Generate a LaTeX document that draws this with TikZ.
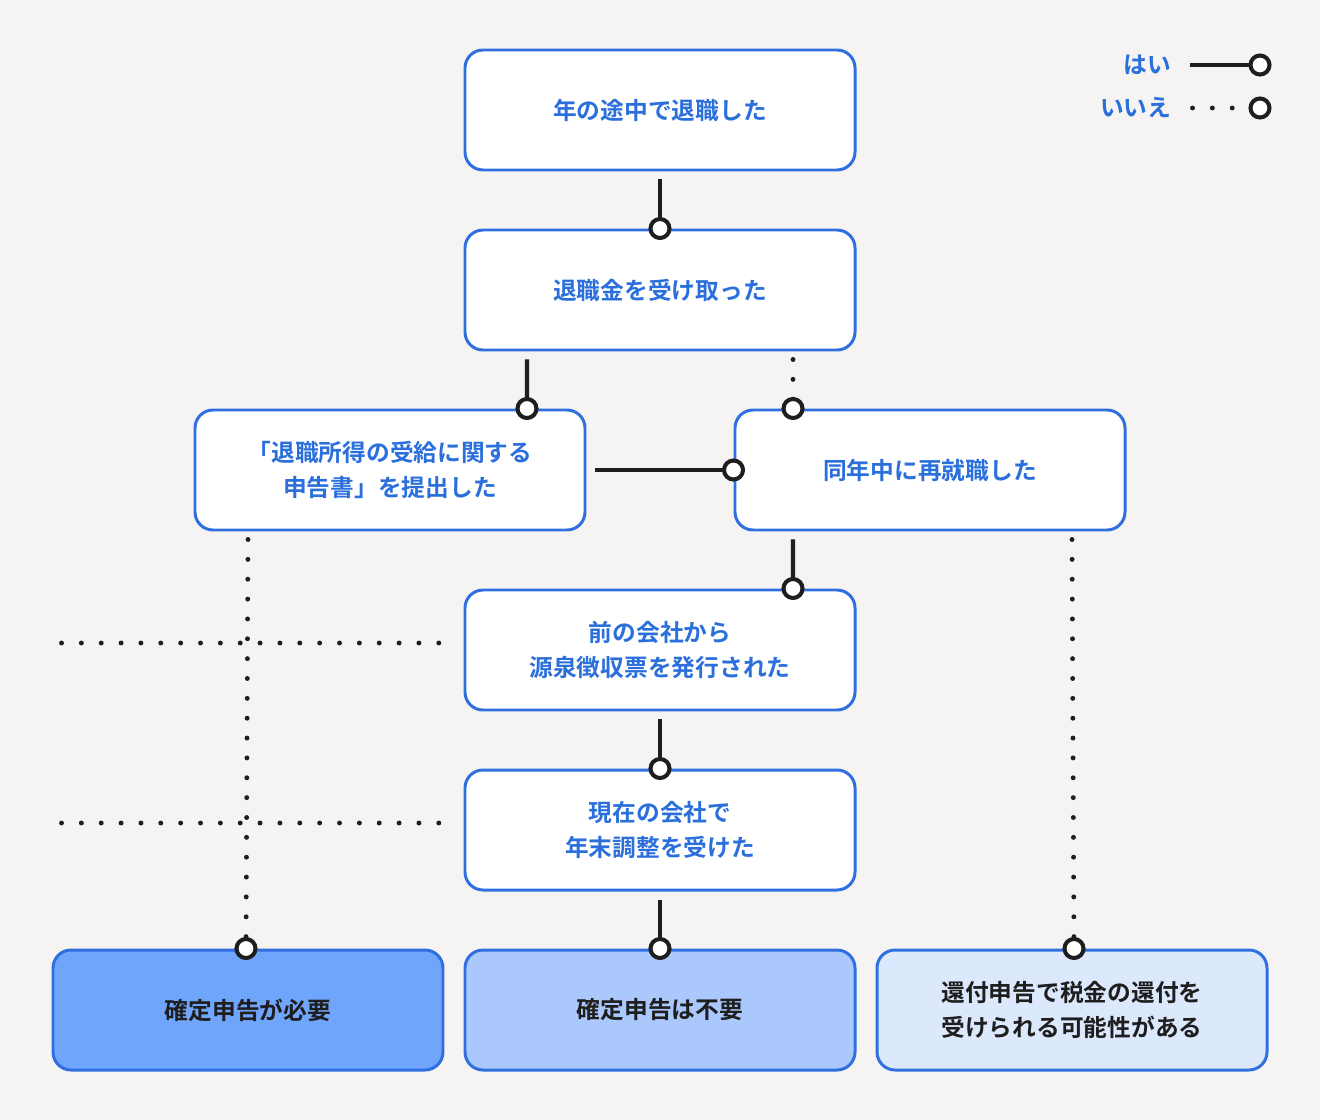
\documentclass[tikz,border=0pt]{standalone}
\usepackage{fontspec}
\setmainfont{Noto Sans CJK JP}[BoldFont={Noto Sans CJK JP Bold}]
\usetikzlibrary{positioning, calc}
\definecolor{bg}{HTML}{F5F4F2}
\definecolor{edge}{HTML}{2F6FE0}
\definecolor{ink}{HTML}{2A6FDB}
\definecolor{must}{HTML}{70A5FC}
\definecolor{nomust}{HTML}{AAC8FC}
\definecolor{refund}{HTML}{DCE8FC}
\definecolor{wire}{HTML}{1E1E1E}

\tikzset{
  query/.style={draw=edge, line width=1.7pt, rounded corners=0.36cm, fill=white,
    minimum width=7.8cm, minimum height=2.4cm, align=center, text=ink,
    font=\bfseries\fontsize{13.5}{20}\selectfont},
  result/.style={query, text=wire},
  yes/.style={draw=wire, line width=2.3pt},
  no/.style={draw=wire, line width=2.8pt, line cap=round, dash pattern=on 0pt off 11.3pt},
  ring/.style={circle, draw=wire, line width=2.3pt, solid, fill=white, inner sep=0pt, minimum size=0.38cm},
  key/.style={text=ink, font=\bfseries\fontsize{13.5}{16}\selectfont, anchor=east}
}

\begin{document}
\begin{tikzpicture}
  \fill[bg] (0,0) rectangle (26.4,-22.4);
  \useasboundingbox (0,0) rectangle (26.4,-22.4);

  % question boxes
  \node[query] (quit) at (13.2,-2.2) {年の途中で退職した};
  \node[query] (pay) at (13.2,-5.8) {退職金を受け取った};
  \node[query] (form) at (7.8,-9.4) {「退職所得の受給に関する\\申告書」を提出した};
  \node[query] (rejob) at (18.6,-9.4) {同年中に再就職した};
  \node[query] (slip) at (13.2,-13.0) {前の会社から\\源泉徴収票を発行された};
  \node[query] (adjust) at (13.2,-16.6) {現在の会社で\\年末調整を受けた};

  % results
  \node[result, fill=must] (need) at (4.96,-20.2) {確定申告が必要};
  \node[result, fill=nomust] (noneed) at (13.2,-20.2) {確定申告は不要};
  \node[result, fill=refund] (back) at (21.44,-20.2) {還付申告で税金の還付を\\受けられる可能性がある};

  % yes
  \draw[yes] ([yshift=-0.16cm]quit.south) -- (pay.north) node[ring]{};
  \draw[yes] ([xshift=-2.66cm,yshift=-0.16cm]pay.south) -- ([xshift=2.74cm]form.north) node[ring]{};
  \draw[yes] ([xshift=0.18cm]form.east) -- (rejob.west) node[ring]{};
  \draw[yes] ([xshift=-2.74cm,yshift=-0.16cm]rejob.south) -- ([xshift=2.66cm]slip.north) node[ring]{};
  \draw[yes] ([yshift=-0.16cm]slip.south) -- (adjust.north) node[ring]{};
  \draw[yes] ([yshift=-0.16cm]adjust.south) -- (noneed.north) node[ring]{};

  % no
  \draw[no] ([xshift=2.66cm,yshift=-0.16cm]pay.south) -- ([xshift=-2.74cm]rejob.north) node[ring]{};
  \draw[no] ([xshift=-2.84cm,yshift=-0.16cm]form.south) -- ([xshift=-0.04cm]need.north) node[ring]{};
  \draw[no] ([xshift=2.84cm,yshift=-0.16cm]rejob.south) -- ([xshift=0.04cm]back.north) node[ring]{};
  \draw[no] ([xshift=-8.04cm,yshift=0.14cm]slip.west) -- ([xshift=-0.24cm,yshift=0.14cm]slip.west);
  \draw[no] ([xshift=-8.04cm,yshift=0.14cm]adjust.west) -- ([xshift=-0.24cm,yshift=0.14cm]adjust.west);

  % legend
  \node[key] (yeskey) at (23.55,-1.3) {はい};
  \node[key] (nokey) at (23.55,-2.16) {いいえ};
  \coordinate (yesend) at (25.2,-1.3);
  \coordinate (noend) at (25.2,-2.16);
  \draw[yes] ([xshift=0.25cm]yeskey.east) -- (yesend) node[ring]{};
  \draw[no] ([xshift=0.3cm]nokey.east) -- ([xshift=-0.4cm]noend);
  \node[ring] at (noend) {};
\end{tikzpicture}
\end{document}
